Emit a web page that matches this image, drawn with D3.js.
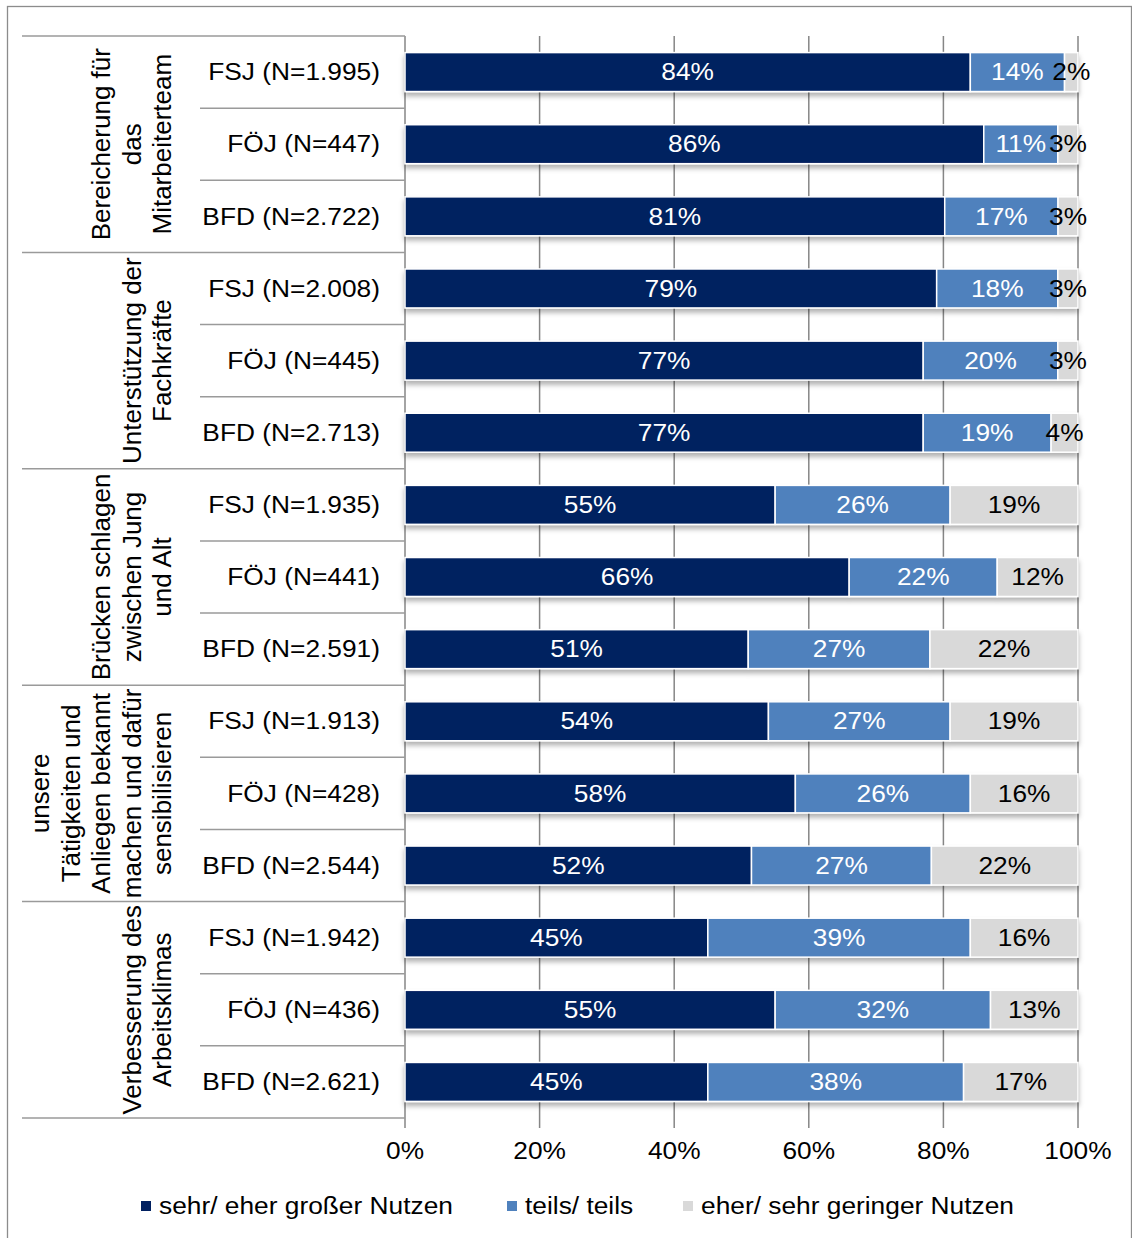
<!DOCTYPE html>
<html><head><meta charset="utf-8">
<script src="https://cdn.jsdelivr.net/npm/d3@7"></script>
<style>
html,body{margin:0;padding:0;background:#fff;}
svg{display:block;font-family:"Liberation Sans",Arial,sans-serif;}
</style></head>
<body>
<svg id="chart" width="1132" height="1238"></svg>
<script>
// ---- data ----
const groupLabels = [
  ["Bereicherung für","das","Mitarbeiterteam"],
  ["Unterstützung der","Fachkräfte"],
  ["Brücken schlagen","zwischen Jung","und Alt"],
  ["unsere","Tätigkeiten und","Anliegen bekannt","machen und dafür","sensibilisieren"],
  ["Verbesserung des","Arbeitsklimas"]
];
const categories = [
  "FSJ (N=1.995)","FÖJ (N=447)","BFD (N=2.722)",
  "FSJ (N=2.008)","FÖJ (N=445)","BFD (N=2.713)",
  "FSJ (N=1.935)","FÖJ (N=441)","BFD (N=2.591)",
  "FSJ (N=1.913)","FÖJ (N=428)","BFD (N=2.544)",
  "FSJ (N=1.942)","FÖJ (N=436)","BFD (N=2.621)"
];
const seriesNames = ["sehr/ eher großer Nutzen","teils/ teils","eher/ sehr geringer Nutzen"];
const sehrGross = [84,86,81,79,77,77,55,66,51,54,58,52,45,55,45];
const teilsTeils = [14,11,17,18,20,19,26,22,27,27,26,27,39,32,38];
const gering = [2,3,3,3,3,4,19,12,22,19,16,22,16,13,17];
const ticks = [0,20,40,60,80,100];
const colors = ["#002060","#4F81BD","#D9D9D9"];
const labelColors = ["#fff","#fff","#000"];

// ---- layout ----
const SX = 1.12;      // horizontal text stretch seen in reference
const FS = 23.5;
const FSG = 26;       // rotated group label font size
const svg = d3.select("#chart");
const plotL = 405, plotR = 1078, plotT = 36, plotB = 1118;

svg.append("rect").attr("x",7.5).attr("y",6.5).attr("width",1124).attr("height",1240)
  .attr("fill","#fff").attr("stroke","#8c8c8c").attr("stroke-width",1.3);

const defs = svg.append("defs");
const f = defs.append("filter").attr("id","sh").attr("x","-5%").attr("y","-30%").attr("width","110%").attr("height","170%");
f.append("feDropShadow").attr("dx",0).attr("dy",4).attr("stdDeviation",2.5)
  .attr("flood-color","#000").attr("flood-opacity",0.3);

const x = d3.scaleLinear().domain([0,100]).range([plotL,plotR]);
const rowIds = d3.range(categories.length);
const y = d3.scaleBand().domain(rowIds).range([plotT,plotB]).paddingInner(0.46).paddingOuter(0.23);
const step = y.step();

// gridlines / ticks
svg.append("g").selectAll("line").data(ticks).join("line")
  .attr("x1",d=>x(d)).attr("x2",d=>x(d)).attr("y1",plotT).attr("y2",plotB+10)
  .attr("stroke","#868686").attr("stroke-width",1.5);

// category separator lines
const groupSizes = groupLabels.map(()=>3);
let starts = []; let acc = 0;
groupSizes.forEach(s=>{starts.push(acc); acc+=s;});
const lines = svg.append("g");
rowIds.concat([categories.length]).forEach(i=>{
  const yy = plotT + i*step;
  const isGroup = starts.includes(i) || i===categories.length;
  lines.append("line").attr("x1",isGroup?22:200).attr("x2",plotL).attr("y1",yy).attr("y2",yy)
    .attr("stroke","#9a9a9a").attr("stroke-width",1.5);
});

// stacked data normalized like a 100% stacked bar
const rows = rowIds.map(i=>{
  const vals=[sehrGross[i],teilsTeils[i],gering[i]];
  const tot=d3.sum(vals);
  let c=0;
  return vals.map((v,k)=>{const s={i,k,v,x0:c/tot*100,x1:(c+v)/tot*100}; c+=v; return s;});
});

const bars = svg.append("g");
rows.forEach(r=>{
  const g = bars.append("g").attr("filter","url(#sh)");
  g.selectAll("rect").data(r).join("rect")
    .attr("x",d=>x(d.x0)).attr("width",d=>x(d.x1)-x(d.x0))
    .attr("y",d=>y(d.i)).attr("height",y.bandwidth())
    .attr("fill",d=>colors[d.k]).attr("stroke","#fff").attr("stroke-width",1.5);
});
const labs = svg.append("g").attr("font-size",FS);
rows.flat().forEach(d=>{
  const cx=(x(d.x0)+x(d.x1))/2, cy=y(d.i)+y.bandwidth()/2;
  labs.append("text").attr("transform",`translate(${cx},${cy}) scale(${SX},1)`)
    .attr("text-anchor","middle").attr("dy","0.35em").attr("fill",labelColors[d.k]).text(d.v+"%");
});

// category labels
const cl = svg.append("g").attr("font-size",FS).attr("fill","#000");
categories.forEach((c,i)=>{
  cl.append("text").attr("transform",`translate(380,${y(i)+y.bandwidth()/2}) scale(${SX},1)`)
    .attr("text-anchor","end").attr("dy","0.35em").text(c);
});

// group labels (rotated)
const gl = svg.append("g").attr("font-size",FSG).attr("fill","#000");
groupLabels.forEach((ls,gi)=>{
  const cy = plotT + (starts[gi]+1.5)*step;
  ls.forEach((t,k)=>{
    const cx = 162 - 30.5*(ls.length-1-k);
    gl.append("text").attr("transform",`translate(${cx},${cy}) rotate(-90)`)
      .attr("text-anchor","middle").attr("dy","0.35em").text(t);
  });
});

// x tick labels
svg.append("g").attr("font-size",FS).selectAll("text").data(ticks).join("text")
  .attr("transform",d=>`translate(${x(d)},1151) scale(${SX},1)`)
  .attr("text-anchor","middle").attr("dy","0.35em").text(d=>d+"%");

// legend
const legX = [141,507,683];
const leg = svg.append("g").attr("font-size",FS);
seriesNames.forEach((n,k)=>{
  leg.append("rect").attr("x",legX[k]).attr("y",1201).attr("width",10).attr("height",10).attr("fill",colors[k]);
  leg.append("text").attr("transform",`translate(${legX[k]+18},1206) scale(${SX},1)`)
    .attr("dy","0.35em").attr("fill","#000").text(n);
});
</script>
</body></html>
